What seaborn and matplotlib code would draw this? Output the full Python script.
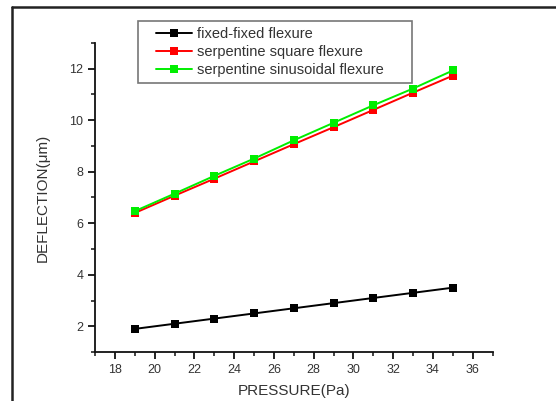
import matplotlib
matplotlib.use("Agg")
import matplotlib.pyplot as plt
from matplotlib.lines import Line2D
from matplotlib.patches import Rectangle
from matplotlib.ticker import MultipleLocator
import pandas as pd
import seaborn as sns

# ------------------------- data ------------------------- #
pressure = [19, 21, 23, 25, 27, 29, 31, 33, 35]
fixed_fixed = [1.9, 2.1, 2.3, 2.5, 2.7, 2.9, 3.1, 3.3, 3.5]
serp_square = [6.40, 7.07, 7.73, 8.40, 9.07, 9.73, 10.40, 11.07, 11.73]
serp_sinus = [6.47, 7.15, 7.84, 8.51, 9.22, 9.90, 10.58, 11.23, 11.93]
series_names = ["fixed-fixed flexure", "serpentine square flexure",
                "serpentine sinusoidal flexure"]
series_colors = ["#000000", "#ff0000", "#00ee00"]

df = pd.concat([
    pd.DataFrame({"pressure": pressure, "deflection": vals, "flexure": name})
    for name, vals in zip(series_names, [fixed_fixed, serp_square, serp_sinus])
])

# ------------------------- plot ------------------------- #
sns.set_theme(style="ticks")
plt.rcParams["font.family"] = ["Liberation Sans", "DejaVu Sans"]

W, H = 556, 401
fig = plt.figure(figsize=(W / 100, H / 100), dpi=100)
ax = fig.add_axes([0.171, 0.122, 0.715, 0.771])

palette = dict(zip(series_names, series_colors))
sns.lineplot(data=df, x="pressure", y="deflection", hue="flexure",
             palette=palette, marker="s", markersize=6, markeredgewidth=0,
             linewidth=1.4, ax=ax, legend=False)

ax.set_xlim(17, 37)
ax.set_ylim(1, 13)
ax.xaxis.set_minor_locator(MultipleLocator(1))
ax.yaxis.set_minor_locator(MultipleLocator(1))
ax.set_xticks(range(18, 37, 2))
ax.set_yticks(range(2, 13, 2))

for side in ["top", "right"]:
    ax.spines[side].set_visible(False)
for side in ["left", "bottom"]:
    ax.spines[side].set_linewidth(1.3)
    ax.spines[side].set_color("#111111")

ax.tick_params(which="major", direction="out", length=5, width=1.3,
               labelsize=9, colors="#111111", labelcolor="#333333")
ax.tick_params(which="minor", direction="out", length=3, width=1.1,
               colors="#111111")

ax.set_xlabel("PRESSURE(Pa)", fontsize=11, color="#333333", labelpad=6)
ax.set_ylabel("DEFLECTION(μm)", fontsize=11, color="#333333", labelpad=14)

# legend: text/handles without frame, box drawn separately
handles = [Line2D([], [], color=c, marker="s", markersize=6,
                  markeredgewidth=0, linewidth=1.4) for c in series_colors]
leg = ax.legend(handles, series_names, loc="upper left",
                bbox_to_anchor=(156 / W, 1 - 27 / H),
                bbox_transform=fig.transFigure, fontsize=10.5,
                frameon=False, borderpad=0, borderaxespad=0,
                handlelength=2.5, handletextpad=0.3, labelspacing=0.28)
for t in leg.get_texts():
    t.set_color("#333333")
fig.add_artist(Rectangle((138 / W, 1 - 83 / H), 274 / W, 62 / H,
                         transform=fig.transFigure, fill=False,
                         edgecolor="#777777", linewidth=1.2))

# outer frame (cropped figure border, top and left only)
fig.add_artist(Line2D([12 / W, 1], [1 - 7 / H, 1 - 7 / H],
                      transform=fig.transFigure, color="#222222", linewidth=1.8))
fig.add_artist(Line2D([12 / W, 12 / W], [0, 1 - 7 / H],
                      transform=fig.transFigure, color="#222222", linewidth=1.8))

fig.savefig("out.png", dpi=100)
